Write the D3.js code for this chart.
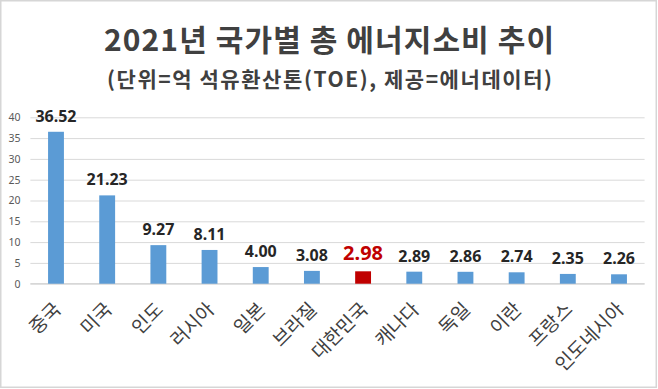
<!DOCTYPE html>
<html><head><meta charset="utf-8">
<script src="https://cdn.jsdelivr.net/npm/d3@7"></script>
<style>html,body{margin:0;padding:0;background:#fff;}svg{display:block;}</style>
</head><body>
<svg id="chart" width="658" height="389"></svg>
<script>
const categories = ["중국","미국","인도","러시아","일본","브라질","대한민국","캐나다","독일","이란","프랑스","인도네시아"];
const values = [36.52,21.23,9.27,8.11,4.00,3.08,2.98,2.89,2.86,2.74,2.35,2.26];
const valueLabels = ["36.52","21.23","9.27","8.11","4.00","3.08","2.98","2.89","2.86","2.74","2.35","2.26"];
const yTicks = [0,5,10,15,20,25,30,35,40];
const highlight = "대한민국";
const titleText = "2021년 국가별 총 에너지소비 추이";
const subtitleText = "(단위=억 석유환산톤(TOE), 제공=에너데이터)";

const W = 658, H = 389;
const svg = d3.select("#chart");
const KR = "'Noto Sans CJK KR','Noto Sans',sans-serif";

svg.append("rect").attr("x",0.75).attr("y",0.75).attr("width",655.5).attr("height",386.5)
  .attr("fill","#fff").attr("stroke","#d6d6d6").attr("stroke-width",1.5);

svg.append("text").attr("x",104).attr("y",51)
  .attr("textLength",450).attr("lengthAdjust","spacing")
  .attr("font-family",KR).attr("font-weight",700).attr("font-size",30).attr("fill","#404040")
  .text(titleText);
svg.append("text").attr("x",107).attr("y",87)
  .attr("textLength",445).attr("lengthAdjust","spacing")
  .attr("font-family",KR).attr("font-weight",700).attr("font-size",21).attr("fill","#404040")
  .text(subtitleText);

const x = d3.scaleBand().domain(categories).range([30.4,644.6]).paddingInner(0.69).paddingOuter(0.345);
const y = d3.scaleLinear().domain([0,40]).range([283.7,117.3]);

const yAxis = d3.axisLeft(y).tickValues(yTicks).tickSize(-(644.6-30.4)).tickPadding(10);
const gy = svg.append("g").attr("transform","translate(30.4,0)").call(yAxis);
gy.select(".domain").remove();
gy.selectAll(".tick line").attr("stroke","#d9d9d9").attr("stroke-width",1);
gy.selectAll(".tick text").attr("font-family","'Noto Sans',sans-serif").attr("font-size",10.5).attr("fill","#595959");

svg.append("line").attr("x1",30.4).attr("x2",644.6).attr("y1",y(0)).attr("y2",y(0))
  .attr("stroke","#d0d0d0").attr("stroke-width",1);

const data = categories.map((c,i)=>({c, v:values[i], l:valueLabels[i]}));

svg.selectAll(".bar").data(data).enter().append("rect").attr("class","bar")
  .attr("x",d=>x(d.c)).attr("width",x.bandwidth())
  .attr("y",d=>y(d.v)).attr("height",d=>y(0)-y(d.v))
  .attr("fill",d=>d.c===highlight?"#c00000":"#5b9bd5");

svg.selectAll(".vl").data(data).enter().append("text").attr("class","vl")
  .attr("x",d=>x(d.c)+x.bandwidth()/2).attr("y",d=>y(d.v)-(d.c===highlight?11:10))
  .attr("text-anchor","middle").attr("font-family","'Noto Sans',sans-serif").attr("font-weight",700)
  .attr("font-size",d=>d.c===highlight?20:16).attr("fill",d=>d.c===highlight?"#c00000":"#262626")
  .text(d=>d.l);

svg.selectAll(".xl").data(data).enter().append("text").attr("class","xl")
  .attr("transform",d=>`translate(${x(d.c)+x.bandwidth()/2+6},${y(0)+27}) rotate(-45)`)
  .attr("text-anchor","end").attr("font-family",KR).attr("font-weight",400)
  .attr("font-size",19).attr("fill","#404040")
  .text(d=>d.c);
</script>
</body></html>
